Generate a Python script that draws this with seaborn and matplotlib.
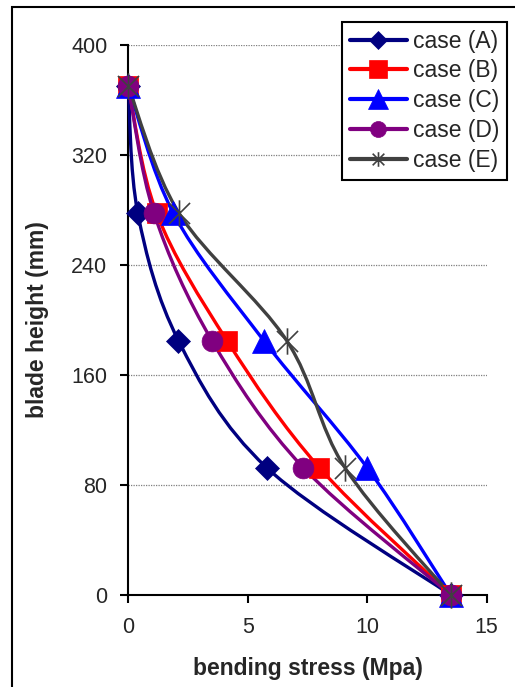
import matplotlib
matplotlib.use("Agg")
import matplotlib.pyplot as plt
import seaborn as sns
import numpy as np
import pandas as pd
from matplotlib.path import Path
from matplotlib.patches import PathPatch, Rectangle
from matplotlib.lines import Line2D

# ---- data ----
blade_height = [370, 277.5, 185, 92.5, 0]
case_A = [0.0, 0.40, 2.10, 5.80, 13.5]
case_B = [0.0, 1.19, 4.13, 8.00, 13.5]
case_C = [0.0, 1.89, 5.67, 10.0, 13.5]
case_D = [0.0, 1.08, 3.50, 7.33, 13.5]
case_E = [0.0, 2.13, 6.63, 9.07, 13.5]
case_labels = ["case (A)", "case (B)", "case (C)", "case (D)", "case (E)"]
x_ticks = [0, 5, 10, 15]
y_ticks = [0, 80, 160, 240, 320, 400]

series = [case_A, case_B, case_C, case_D, case_E]

sns.set_style("white")
plt.rcParams["font.family"] = ["Liberation Sans", "DejaVu Sans"]

fig = plt.figure(figsize=(5.15, 6.87), dpi=100)
ax = fig.add_axes([128.3 / 515, 1 - 595 / 687, 358.4 / 515, 550 / 687])

# asterisk marker (X plus vertical bar)
star = Path([(-1, -1), (1, 1), (-1, 1), (1, -1), (0, -1.25), (0, 1.25)],
            [Path.MOVETO, Path.LINETO, Path.MOVETO, Path.LINETO, Path.MOVETO, Path.LINETO])

colors = ["#000080", "#FF0000", "#0000FF", "#800080", "#404040"]
markers = ["D", "s", "^", "o", star]
msizes = [12, 15, 17, 15, 19]
leg_ms = [9.5, 12.5, 14.5, 11.5, 10.5]


def smooth_path(xs, ys):
    pts = np.column_stack([xs, ys]).astype(float)
    n = len(pts)
    verts = [pts[0]]
    codes = [Path.MOVETO]
    for i in range(n - 1):
        p0 = pts[i - 1] if i > 0 else pts[i]
        p1 = pts[i]
        p2 = pts[i + 1]
        p3 = pts[i + 2] if i + 2 < n else pts[i + 1]
        c1 = p1 + (p2 - p0) / 6.0
        c2 = p2 - (p3 - p1) / 6.0
        verts += [c1, c2, p2]
        codes += [Path.CURVE4] * 3
    return Path(verts, codes)


# smoothed lines
for i, xs in enumerate(series):
    patch = PathPatch(smooth_path(xs, blade_height), facecolor="none",
                      edgecolor=colors[i], lw=2.4, zorder=2 + i * 0.01,
                      clip_on=False, capstyle="round", joinstyle="round")
    ax.add_patch(patch)

# markers
for i, xs in enumerate(series):
    df = pd.DataFrame({"stress": xs, "height": blade_height})
    sns.lineplot(data=df, x="stress", y="height", sort=False, estimator=None,
                 ax=ax, color=colors[i], linewidth=0, marker=markers[i],
                 markersize=msizes[i], markeredgecolor=colors[i],
                 markeredgewidth=1.2 if i == 4 else 0.5,
                 markerfacecolor=colors[i], clip_on=False, zorder=5 + i)

ax.set_xlim(0, 15)
ax.set_ylim(0, 400)
ax.set_xticks(x_ticks)
ax.set_yticks(y_ticks)
ax.set_xticklabels([str(t) for t in x_ticks])
ax.set_yticklabels([str(t) for t in y_ticks])

ax.yaxis.grid(True, color="#7f7f7f", linestyle=(0, (1, 1)), linewidth=0.9)
ax.xaxis.grid(False)
ax.set_axisbelow(True)

for s in ["top", "right"]:
    ax.spines[s].set_visible(False)
for s in ["left", "bottom"]:
    ax.spines[s].set_color("black")
    ax.spines[s].set_linewidth(1.5)
    ax.spines[s].set_zorder(1)

ax.tick_params(axis="y", direction="out", length=6, width=1.5, color="black",
               labelsize=15.5, pad=9, left=True)
ax.tick_params(axis="x", direction="out", length=5.5, width=1.5, color="black",
               labelsize=15.5, pad=10, bottom=True)

ax.set_xlabel("bending stress (Mpa)", fontsize=16.5, fontweight="bold", va="center")
ax.xaxis.set_label_coords(0.5, -(669 - 595) / 550)
ax.set_ylabel("blade height (mm)", fontsize=16.5, fontweight="bold", va="center", ha="center")
ax.yaxis.set_label_coords((37.5 - 128.3) / 358.4, 0.5)

handles = [Line2D([0], [0], color=colors[i], lw=3, marker=markers[i], ms=leg_ms[i],
                  markerfacecolor=colors[i], markeredgecolor=colors[i],
                  markeredgewidth=1.2 if i == 4 else 0.5)
           for i in range(5)]
leg = ax.legend(handles, case_labels, loc="upper left",
                bbox_to_anchor=(342 / 515, 1 - 22 / 687), bbox_transform=fig.transFigure,
                borderaxespad=0, fontsize=16.5, frameon=True, fancybox=False,
                framealpha=1, edgecolor="black", handlelength=2.5,
                handletextpad=0.27, labelspacing=0.3, borderpad=0.33)
leg.get_frame().set_linewidth(1.5)
leg.set_zorder(20)

fig.add_artist(Rectangle((12 / 515, -0.1), 1.2, 1.1 - 7 / 687, transform=fig.transFigure,
                         fill=False, edgecolor="black", linewidth=1.5))

fig.savefig("out.png", dpi=100)
